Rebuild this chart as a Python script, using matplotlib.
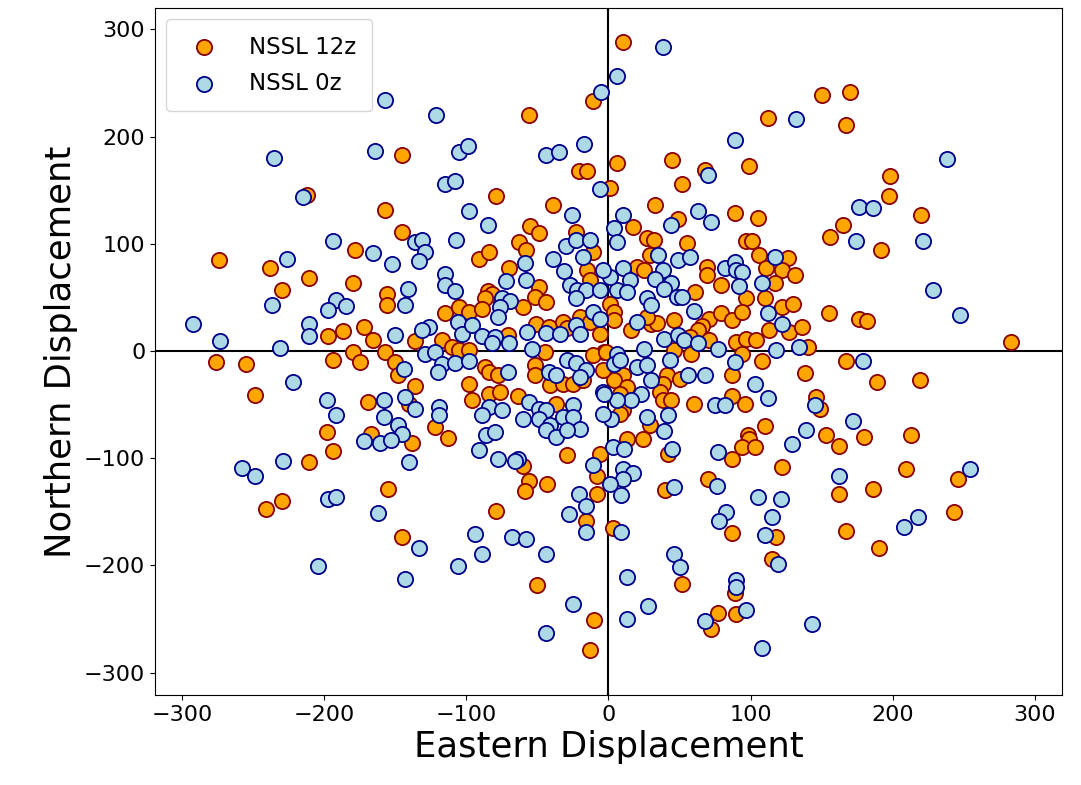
import numpy as np
import matplotlib
matplotlib.use("Agg")
import matplotlib.pyplot as plt

# (east, north) displacement pairs
nssl_12z = [
    (10, 288), (-56, 220), (-11, 233), (-145, 183), (-21, 168), (-15, 168), (-79, 145), (-39, 136),
    (-55, 117), (-49, 110), (-157, 132), (-145, 111), (-23, 111), (-212, 146),
    (150, 239), (112, 217), (6, 175), (45, 178), (68, 169), (99, 173), (52, 156), (1, 152), (33, 136),
    (89, 129), (105, 124), (49, 123), (17, 116), (27, 105), (32, 104), (156, 106),
    (170, 242), (167, 211), (198, 163), (197, 145), (220, 127), (165, 118),
    (-178, 94), (-274, 85), (-238, 77), (-211, 68), (-180, 63), (-230, 57), (-156, 53), (-156, 43),
    (-197, 14), (-187, 19), (-172, 22), (-166, 10), (-276, -10), (-255, -12), (-194, -8), (-180, -1),
    (-175, -10), (-157, -1), (-249, -41), (-169, -48), (-198, -76), (-194, -93), (-167, -77), (-211, -104),
    (-241, -147), (-230, -140), (-155, -129),
    (162, -133), (186, -129), (209, -110), (246, -119), (243, -150), (167, -168), (190, -184),
    (192, 94), (176, 30), (182, 28), (155, 35), (283, 8), (167, -9), (189, -29), (219, -27), (180, -80),
    (213, -78), (162, -89),
    (70, -119), (40, -130), (122, -108), (87, -170), (118, -174), (3, -165), (52, -217), (115, -194),
    (89, -226), (77, -244), (72, -259), (90, -245),
    (-56, -121), (-59, -131), (-43, -124), (-79, -149), (-16, -159), (-8, -117), (-8, -133), (-145, -174),
    (-50, -218), (-10, -251), (-13, -279), (-60, -107),
    (55, 101), (97, 103), (101, 103), (29, 90), (20, 78), (25, 76), (61, 55), (69, 78), (69, 71), (79, 62),
    (106, 90), (111, 77), (126, 87), (122, 76), (131, 71), (117, 63), (97, 49), (110, 49), (122, 41),
    (130, 44), (46, 29), (71, 30), (66, 23), (63, 20), (79, 35), (87, 29), (94, 36), (113, 20), (127, 18),
    (136, 22), (16, 20), (30, 25), (34, 26), (27, 32), (57, 13), (71, 10), (90, 8), (97, 11), (104, 10),
    (140, 4), (94, -3), (108, -9), (138, -21), (87, -22), (46, 1), (58, -3), (41, -22), (38, -31), (50, -26),
    (10, -22), (4, -27), (13, -34), (8, -40), (36, -38), (38, -46), (44, -46), (60, -49), (96, -49),
    (87, -42), (146, -43), (149, -54), (10, -55), (8, -59), (29, -69), (13, -82), (24, -82), (42, -96),
    (98, -78), (99, -82), (94, -90), (103, -90), (110, -70), (153, -78), (87, -101), (1, 44), (4, 36), (4, 29),
    (-91, 86), (-84, 92), (-63, 102), (-58, 94), (-70, 77), (-15, 76), (-11, 92), (-85, 56), (-82, 53),
    (-87, 49), (-49, 60), (-52, 50), (-44, 46), (-13, 66), (-60, 41), (-115, 35), (-105, 41), (-98, 36),
    (-89, 39), (-136, 9), (-117, 10), (-110, 4), (-71, 15), (-51, 25), (-42, 22), (-32, 27), (-29, 21),
    (-20, 32), (-13, 27), (-6, 16), (-3, -1), (-45, -1), (-105, 1), (-98, 1), (-150, -10), (-148, -22),
    (-87, -15), (-84, -20), (-78, -22), (-136, -33), (-98, -31), (-96, -46), (-84, -40), (-76, -38),
    (-64, -42), (-52, -13), (-52, -22), (-41, -32), (-32, -31), (-25, -31), (-18, -27), (-4, -18),
    (-11, -4), (-2, -1), (-140, -49), (-138, -86), (-122, -71), (-113, -81), (-37, -49), (-29, -97), (-6, -96),
]

nssl_0z = [
    (-157, 234), (-121, 220), (-5, 242), (-164, 187), (-105, 186), (-99, 191), (-44, 183), (-35, 186),
    (-17, 193), (-6, 151), (-115, 156), (-108, 159), (-26, 127), (-98, 131), (-85, 118), (-235, 180),
    (-215, 144), (-194, 103),
    (38, 284), (6, 257), (132, 216), (89, 197), (70, 164), (63, 131), (72, 120), (44, 118), (10, 127), (4, 115),
    (238, 179), (176, 134), (186, 133), (174, 103), (221, 103),
    (-166, 91), (-226, 86), (-237, 43), (-192, 48), (-197, 38), (-185, 42), (-292, 25), (-211, 25),
    (-211, 14), (-273, 9), (-231, 3), (-222, -29), (-198, -46), (-192, -60), (-172, -84), (-161, -86),
    (-229, -103),
    (-258, -109), (-249, -117), (-197, -138), (-192, -136), (-162, -151), (-204, -201),
    (162, -117), (254, -110), (208, -164), (218, -155),
    (228, 57), (247, 34), (179, -9), (172, -65),
    (10, -110), (17, -114), (10, -119), (1, -124), (9, -134), (76, -126), (46, -127), (105, -136),
    (121, -138), (115, -155), (83, -150), (78, -159), (110, -172), (9, -169), (46, -189), (50, -202),
    (119, -199), (13, -211), (90, -214), (90, -220), (68, -252), (97, -242), (28, -238), (13, -250),
    (108, -277), (143, -255),
    (-21, -133), (-16, -145), (-28, -152), (-16, -169), (-11, -106), (-133, -184), (-143, -213),
    (-94, -171), (-89, -189), (-106, -201), (-68, -174), (-58, -175), (-44, -189), (-25, -236), (-44, -263),
    (6, 102), (35, 90), (49, 85), (57, 88), (10, 77), (38, 76), (33, 67), (15, 66), (6, 57), (13, 55),
    (44, 63), (39, 58), (48, 50), (52, 50), (27, 49), (30, 43), (82, 77), (89, 83), (90, 76), (94, 74),
    (92, 61), (117, 88), (108, 63), (60, 37), (112, 35), (122, 25), (20, 27), (39, 11), (49, 15), (53, 10),
    (63, 7), (77, 2), (118, 1), (134, 4), (89, -10), (25, 2), (6, -3), (4, -12), (8, -8), (20, -15),
    (27, -13), (43, -8), (30, -27), (56, -22), (68, -22), (23, -40), (16, -46), (6, -46), (75, -50),
    (82, -50), (103, -31), (112, -44), (145, -50), (2, -63), (27, -62), (42, -60), (39, -75), (3, -90),
    (11, -91), (45, -91), (139, -74), (129, -87), (77, -94), (1, 69),
    (-136, 102), (-131, 104), (-107, 104), (-129, 92), (-133, 84), (-152, 81), (-30, 98), (-23, 104),
    (-13, 104), (-59, 82), (-58, 66), (-39, 86), (-18, 88), (-31, 75), (-4, 76), (-115, 72), (-115, 62),
    (-108, 56), (-141, 58), (-143, 43), (-72, 65), (-27, 62), (-22, 57), (-16, 57), (-23, 49), (-6, 57),
    (-75, 49), (-69, 47), (-76, 41), (-78, 32), (-106, 27), (-103, 16), (-96, 24), (-126, 22), (-131, 20),
    (-150, 15), (-89, 14), (-80, 13), (-82, 7), (-70, 7), (-57, 18), (-44, 17), (-34, 16), (-23, 24),
    (-20, 16), (-11, 36), (-6, 30), (-54, 2), (-129, -3), (-122, -1), (-117, -12), (-120, -20),
    (-108, -11), (-98, -9), (-144, -17), (-71, -20), (-56, -48), (-49, -54), (-44, -55), (-42, -20),
    (-37, -22), (-29, -8), (-23, -11), (-16, -18), (-20, -24), (-4, -38), (-143, -43), (-136, -54),
    (-158, -46), (-158, -62), (-119, -52), (-119, -60), (-148, -69), (-145, -77), (-153, -83), (-84, -52),
    (-89, -60), (-75, -55), (-60, -63), (-49, -63), (-41, -69), (-44, -74), (-37, -80), (-32, -62),
    (-25, -50), (-25, -62), (-20, -73), (-29, -74), (-86, -78), (-80, -76), (-91, -92), (-78, -101),
    (-64, -101), (-66, -103), (-140, -104), (-4, -59), (-3, -40),
]

ticks = [-300, -200, -100, 0, 100, 200, 300]

east12, north12 = np.array(nssl_12z).T
east0, north0 = np.array(nssl_0z).T

fig = plt.figure(figsize=(10.81, 7.85), dpi=100)
ax = fig.add_axes([0.1434, 0.1146, 0.839, 0.8752])

ax.axhline(0, color='black', lw=1.5, zorder=1)
ax.axvline(0, color='black', lw=1.5, zorder=1)

ax.scatter(east12, north12, s=120, c='orange', edgecolors='darkred', linewidths=1.3,
           label='NSSL 12z', zorder=2)
ax.scatter(east0, north0, s=120, c='lightblue', edgecolors='darkblue', linewidths=1.3,
           label='NSSL 0z', zorder=3)

ax.set_xlim(-319, 319)
ax.set_ylim(-321, 320)
ax.set_xticks(ticks)
ax.set_yticks(ticks)
ax.tick_params(labelsize=16)
ax.set_xlabel('Eastern Displacement', fontsize=25.5)
ax.set_ylabel('Northern Displacement', fontsize=25.5)

ax.legend(loc='upper left', fontsize=16.5, borderpad=0.7, handlelength=1.9,
          handletextpad=1.0, labelspacing=0.6)

fig.savefig('out.png', dpi=100)
